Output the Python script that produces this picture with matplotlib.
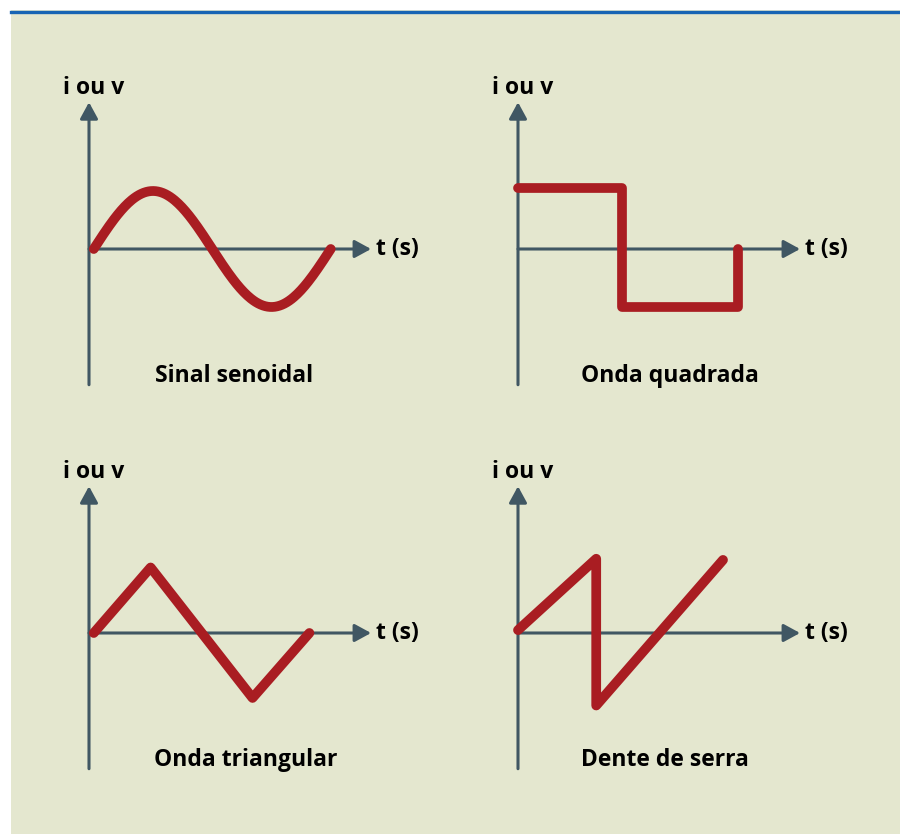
import numpy as np
import matplotlib
matplotlib.use("Agg")
import matplotlib.pyplot as plt
from matplotlib.patches import Rectangle
from matplotlib.lines import Line2D

# waveform data (time in periods, value in amplitude units)
sine_t0 = 0.02
sine_period = 1.0
sine_amp = 1.0

square_t = [0.0, 0.44, 0.44, 0.93, 0.93]
square_v = [1.05, 1.05, -1.0, -1.0, 0.0]

tri_t = [0.02, 0.26, 0.69, 0.93]
tri_v = [0.0, 1.13, -1.12, 0.0]

saw_t = [0.0, 0.33, 0.33, 0.865]
saw_v = [0.05, 1.28, -1.25, 1.26]

titles = ["Sinal senoidal", "Onda quadrada", "Onda triangular", "Dente de serra"]
y_label = "i ou v"
x_label = "t (s)"

BG = "#e4e7cf"
AXIS = "#405763"
RED = "#a91d22"
BLUE = "#1764b4"

W, H = 900, 834
PX_T, PX_V = 237, 58
XMIN, XMAX = -0.2, 1.6
YMIN, YMAX = -2.6, 2.9
FS = 16.5

plt.rcParams['font.family'] = ['Open Sans', 'DejaVu Sans']

fig = plt.figure(figsize=(W / 100, H / 100), dpi=100)
fig.patch.set_facecolor("white")
fig.patches.append(Rectangle((11 / W, 0), 1 - 11 / W, 1 - 10 / H,
                             transform=fig.transFigure, facecolor=BG,
                             edgecolor="none", zorder=-10))
fig.lines.append(Line2D([11 / W, 1], [1 - 11.5 / H, 1 - 11.5 / H],
                        transform=fig.transFigure, color=BLUE, lw=2.4,
                        zorder=-5))


def make_axes(ox, oy):
    left = (ox + XMIN * PX_T) / W
    width = (XMAX - XMIN) * PX_T / W
    bottom = 1 - (oy - YMIN * PX_V) / H
    height = (YMAX - YMIN) * PX_V / H
    ax = fig.add_axes([left, bottom, width, height])
    ax.set_xlim(XMIN, XMAX)
    ax.set_ylim(YMIN, YMAX)
    ax.set_axis_off()
    ax.patch.set_alpha(0)
    arrow = dict(arrowstyle="-|>,head_length=0.55,head_width=0.3",
                 color=AXIS, lw=2.2, shrinkA=0, shrinkB=0, mutation_scale=18)
    ax.annotate("", xy=(0, 2.53), xytext=(0, -2.34), arrowprops=arrow)
    ax.annotate("", xy=(1.19, 0), xytext=(0, 0), arrowprops=arrow)
    ax.text(0.02, 2.77, y_label, ha="center", va="center",
            fontsize=FS, fontweight="bold", color="black")
    ax.text(1.21, 0, x_label, ha="left", va="center",
            fontsize=FS, fontweight="bold", color="black")
    return ax


def draw_wave(ax, t, v, title, title_x):
    ax.plot(t, v, color=RED, lw=7, solid_capstyle="round",
            solid_joinstyle="round", zorder=5)
    ax.text(title_x, -2.19, title, ha="center", va="center",
            fontsize=FS, fontweight="bold", color="black")


ax1 = make_axes(89, 249)
t = np.linspace(sine_t0, sine_t0 + sine_period, 200)
draw_wave(ax1, t, sine_amp * np.sin(2 * np.pi * (t - sine_t0) / sine_period),
          titles[0], 0.61)

ax2 = make_axes(518, 249)
draw_wave(ax2, square_t, square_v, titles[1], 0.64)

ax3 = make_axes(89, 633)
draw_wave(ax3, tri_t, tri_v, titles[2], 0.66)

ax4 = make_axes(518, 633)
draw_wave(ax4, saw_t, saw_v, titles[3], 0.62)

fig.savefig("out.png", dpi=100)
